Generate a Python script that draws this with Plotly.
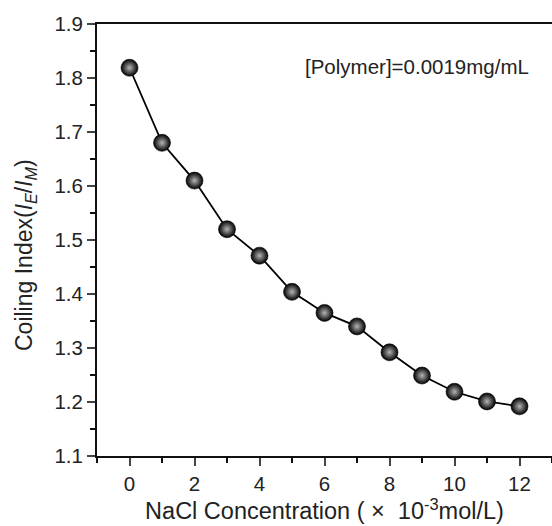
import plotly.graph_objects as go

nacl = [0, 1, 2, 3, 4, 5, 6, 7, 8, 9, 10, 11, 12]
coiling = [1.819, 1.680, 1.610, 1.520, 1.471, 1.404, 1.365, 1.340, 1.292, 1.249, 1.219, 1.201, 1.192]
x_ticks = [0, 2, 4, 6, 8, 10, 12]
y_ticks = [1.1, 1.2, 1.3, 1.4, 1.5, 1.6, 1.7, 1.8, 1.9]

fig = go.Figure()
fig.add_trace(go.Scatter(
    x=nacl, y=coiling, mode="lines+markers",
    line=dict(color="black", width=1.8),
    marker=dict(size=17, color="#000000",
                gradient=dict(type="radial", color="#b5b5b5"),
                line=dict(color="#000000", width=0.6)),
    showlegend=False,
))

font = "Liberation Sans, Arial, sans-serif"
fig.update_layout(
    width=552, height=526,
    margin=dict(l=97, r=0, t=24, b=70),
    paper_bgcolor="white", plot_bgcolor="white",
    font=dict(family=font, color="#222222", size=20),
    xaxis=dict(range=[-1, 13], tickvals=x_ticks, ticks="outside", ticklen=8, tickwidth=2,
               showline=True, linecolor="#111111", linewidth=2, mirror=True,
               showgrid=False, zeroline=False,
               minor=dict(tickvals=[-1, 1, 3, 5, 7, 9, 11, 13], ticks="outside", ticklen=5, tickwidth=2, tickcolor="#111111"),
               title=dict(text="NaCl Concentration ( ×  10<sup>-3</sup>mol/L)", font=dict(size=23.5), standoff=4),
               tickfont=dict(size=20.5)),
    yaxis=dict(range=[1.1, 1.9], tickvals=y_ticks, ticktext=[f"{v:.1f}" for v in y_ticks],
               ticks="outside", ticklen=8, tickwidth=2,
               showline=True, linecolor="#111111", linewidth=2, mirror=False,
               showgrid=False, zeroline=False,
               minor=dict(dtick=0.05, tick0=1.1, ticks="outside", ticklen=5, tickwidth=2, tickcolor="#111111"),
               tickfont=dict(size=20.5)),
    annotations=[
        dict(text="[Polymer]=0.0019mg/mL", x=(417 - 97) / (552 - 97), y=(456 - 66) / (456 - 24),
             xref="paper", yref="paper", xanchor="center", yanchor="middle",
             showarrow=False, font=dict(size=20.5)),
        dict(text="Coiling Index(<i>I</i><sub><i>E</i></sub>/<i>I</i><sub><i>M</i></sub>)",
             x=(25 - 97) / (552 - 97), y=(456 - 255) / (456 - 24),
             xref="paper", yref="paper", xanchor="center", yanchor="middle", textangle=-90,
             showarrow=False, font=dict(size=23)),
    ],
)
fig.write_html("out.html")
